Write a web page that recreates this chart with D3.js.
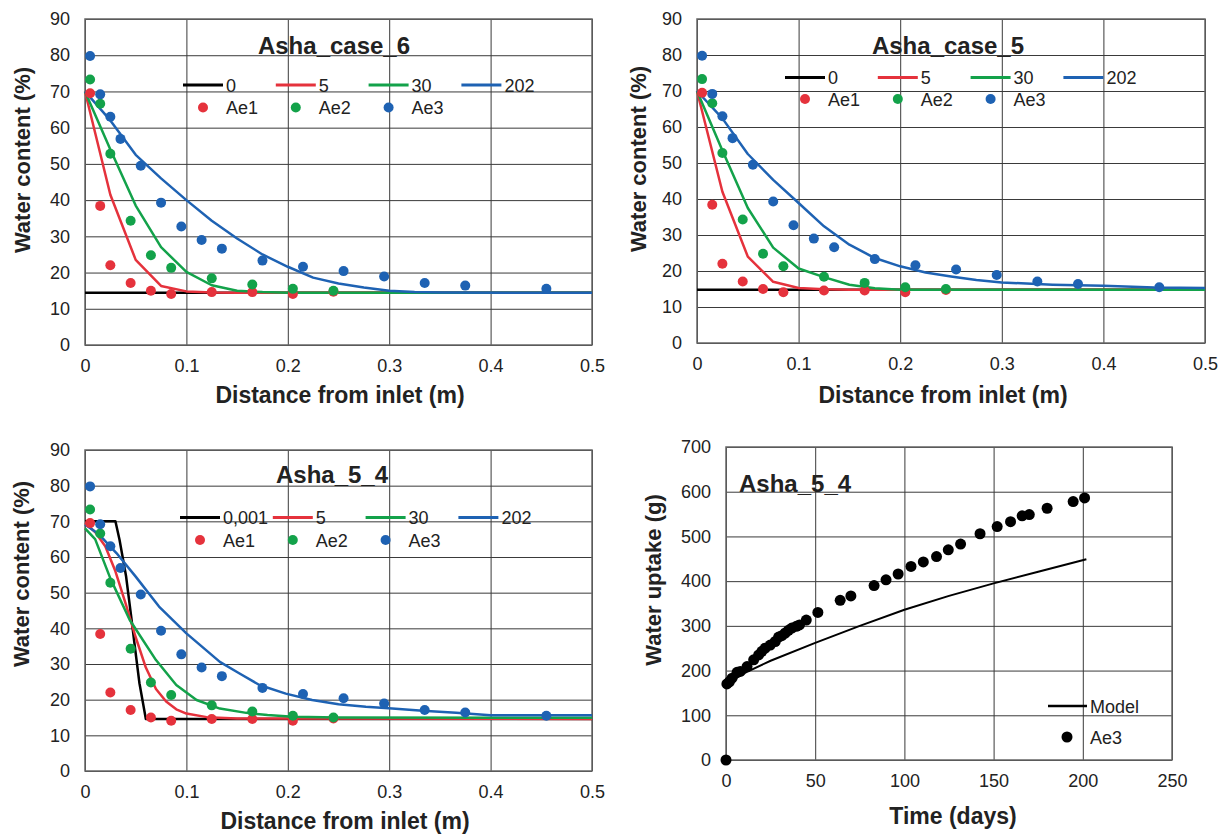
<!DOCTYPE html>
<html>
<head>
<meta charset="utf-8">
<script src="https://cdn.jsdelivr.net/npm/d3@7"></script>
<style>
  body { margin: 0; background: #fff; }
  text { font-family: 'Liberation Sans', Arial, sans-serif; fill: #222; }
</style>
</head>
<body>
<div id="chart"></div>
<script>
// measured water content, same in the three profile charts
var distAe12 = [0.005, 0.015, 0.025, 0.045, 0.065, 0.085, 0.125, 0.165, 0.205, 0.245];
var ae1 = [69.5, 38.4, 22.0, 17.1, 15.0, 14.1, 14.6, 14.6, 14.1, 14.7];
var ae2 = [73.3, 66.6, 52.8, 34.3, 24.8, 21.3, 18.4, 16.7, 15.5, 15.0];
var distAe3 = [0.005, 0.015, 0.025, 0.035, 0.055, 0.075, 0.095, 0.115, 0.135, 0.175, 0.215, 0.255, 0.295, 0.335, 0.375, 0.455];
var ae3 = [79.8, 69.2, 63.0, 56.9, 49.5, 39.3, 32.7, 29.0, 26.6, 23.3, 21.6, 20.4, 18.9, 17.1, 16.4, 15.5];

// model profiles - Asha_case_6
var c6Dist0 = [0, 0.5];
var c6Wc0 = [14.4, 14.4];
var c6Dist5 = [0, 0.025, 0.05, 0.075, 0.1, 0.125, 0.15, 0.5];
var c6Wc5 = [70, 41.5, 23.5, 16.3, 14.8, 14.5, 14.4, 14.4];
var c6Dist30 = [0, 0.025, 0.05, 0.075, 0.1, 0.125, 0.15, 0.175, 0.2, 0.5];
var c6Wc30 = [70, 54, 38.5, 27, 20.2, 16.5, 15.0, 14.6, 14.4, 14.4];
var c6Dist202 = [0, 0.025, 0.05, 0.075, 0.1, 0.125, 0.15, 0.175, 0.2, 0.225, 0.25, 0.275, 0.3, 0.325, 0.35, 0.5];
var c6Wc202 = [70, 62, 52.5, 46, 40, 34.3, 29.4, 25, 21.6, 18.6, 17, 15.9, 15, 14.6, 14.5, 14.4];

// model profiles - Asha_case_5
var c5Dist0 = [0, 0.5];
var c5Wc0 = [14.8, 14.8];
var c5Dist5 = [0, 0.025, 0.05, 0.075, 0.1, 0.125, 0.15, 0.5];
var c5Wc5 = [70, 42, 24, 17, 15.3, 14.9, 14.8, 14.8];
var c5Dist30 = [0, 0.025, 0.05, 0.075, 0.1, 0.125, 0.15, 0.175, 0.2, 0.5];
var c5Wc30 = [70, 53.5, 37.5, 26.5, 20.7, 18.3, 16.2, 15.2, 14.8, 14.8];
var c5Dist202 = [0, 0.025, 0.05, 0.075, 0.1, 0.125, 0.15, 0.175, 0.2, 0.225, 0.25, 0.275, 0.3, 0.35, 0.4, 0.45, 0.5];
var c5Wc202 = [70, 62.4, 52.5, 45.3, 38.9, 32.4, 27.3, 23.6, 21.3, 19.6, 18.5, 17.5, 16.8, 16.2, 15.9, 15.4, 15.3];

// model profiles - Asha_5_4
var c54Dist0 = [0, 0.03, 0.034, 0.0405, 0.0455, 0.0487, 0.0537, 0.06, 0.5];
var c54Wc0 = [70, 70, 64.9, 54.6, 43.4, 35.9, 24.6, 14.6, 14.6];
var c54Dist5 = [0, 0.01, 0.02, 0.03, 0.04, 0.05, 0.06, 0.07, 0.08, 0.09, 0.1, 0.12, 0.15, 0.5];
var c54Wc5 = [69.5, 67, 63, 56, 47, 37.5, 29, 23, 19.5, 17.3, 16.1, 15.1, 14.7, 14.6];
var c54Dist30 = [0, 0.01, 0.025, 0.044, 0.07, 0.09, 0.11, 0.133, 0.159, 0.18, 0.205, 0.25, 0.5];
var c54Wc30 = [68, 65, 54, 42.4, 31.1, 24.1, 19.9, 17.5, 16.3, 15.7, 15.2, 15.0, 14.9];
var c54Dist202 = [0, 0.014, 0.031, 0.05, 0.073, 0.1, 0.133, 0.152, 0.172, 0.198, 0.224, 0.25, 0.277, 0.303, 0.333, 0.366, 0.4, 0.5];
var c54Wc202 = [69.1, 66.3, 61.1, 54.5, 46.1, 38.6, 30.6, 27.4, 24.1, 21.7, 19.9, 18.7, 18.0, 17.5, 16.9, 16.3, 15.6, 15.6];

var profTicksX = [0, 0.1, 0.2, 0.3, 0.4, 0.5];
var profTicksY = [0, 10, 20, 30, 40, 50, 60, 70, 80, 90];

// water uptake - Asha_5_4
var uptakeDays = [0, 0.5, 1.9, 3.4, 6.2, 8, 11.8, 15.5, 18.3, 20.1, 22, 24.8, 27.6, 29.5, 31.3, 33.2, 35, 36.9, 39.4, 41.2, 45, 51.5, 64, 70, 83, 89.7, 96.5, 103.7, 110.6, 118, 124.6, 131.5, 142.4, 152, 159.5, 166, 170, 180, 194.6, 201];
var uptakeAe3 = [0, 170, 175, 183, 196, 198, 209, 224, 235, 243, 250, 257, 265, 275, 278, 284, 290, 295, 299, 302, 313, 330, 357, 367, 390, 403, 416, 433, 443, 455, 470, 483, 506, 522, 533, 546, 549, 563, 578, 586];
var modelDays = [0, 10, 25, 50, 75, 100, 125, 150, 175, 202];
var modelUptake = [168, 194, 222, 262, 300, 336, 367, 395, 421, 449];
var uptakeTicksX = [0, 50, 100, 150, 200, 250];
var uptakeTicksY = [0, 100, 200, 300, 400, 500, 600, 700];

var red = "#e5323c", green = "#13a24a", blue = "#1e62b3";

var svg = d3.select("#chart")
  .append("svg")
    .attr("width", 1225)
    .attr("height", 835);

// grid, frame and tick labels of one plot area
function drawAxes(g, x, y, w, h, ticksX, ticksY) {
  g.append("g")
    .attr("transform", "translate(0," + h + ")")
    .call(d3.axisBottom(x).tickValues(ticksX).tickSize(-h).tickFormat(d3.format("")))
    .call(function(a) { a.select(".domain").remove(); })
    .call(function(a) {
      a.selectAll("line").attr("stroke", "#3a3a3a").attr("stroke-width", 1);
      a.selectAll("text").attr("y", 27).attr("dy", null)
        .style("font-size", "18px").style("fill", "#222")
        .style("font-family", "'Liberation Sans', Arial, sans-serif");
    });
  g.append("g")
    .call(d3.axisLeft(y).tickValues(ticksY).tickSize(-w).tickPadding(15))
    .call(function(a) { a.select(".domain").remove(); })
    .call(function(a) {
      a.selectAll("line").attr("stroke", "#3a3a3a").attr("stroke-width", 1);
      a.selectAll("text")
        .style("font-size", "18px").style("fill", "#222")
        .style("font-family", "'Liberation Sans', Arial, sans-serif");
    });
  g.append("rect")
    .attr("width", w).attr("height", h)
    .attr("fill", "none").attr("stroke", "#666").attr("stroke-width", 1.5);
}

function axisTitles(xt, yt) {
  svg.append("text")
    .attr("x", xt[0]).attr("y", xt[1])
    .attr("text-anchor", "middle")
    .style("font-size", "23px").style("font-weight", "bold")
    .text(xt[2]);
  svg.append("text")
    .attr("transform", "translate(" + yt[0] + "," + yt[1] + ")rotate(-90)")
    .attr("text-anchor", "middle")
    .style("font-size", "22px").style("font-weight", "bold")
    .text(yt[2]);
}

function profileChart(p) {
  var g = svg.append("g")
    .attr("transform", "translate(" + p.left + "," + p.top + ")");
  var x = d3.scaleLinear().domain([0, 0.5]).range([0, p.w]);
  var y = d3.scaleLinear().domain([0, 90]).range([p.h, 0]);
  drawAxes(g, x, y, p.w, p.h, profTicksX, profTicksY);

  var line = d3.line()
    .x(function(d) { return x(d[0]); })
    .y(function(d) { return y(d[1]); });

  p.lines.forEach(function(s) {
    g.append("path")
      .datum(d3.zip(s.x, s.y))
      .attr("d", line)
      .attr("fill", "none")
      .attr("stroke", s.color)
      .attr("stroke-width", 2.5)
      .attr("stroke-linejoin", "round");
  });

  var dots = [
    {x: distAe12, y: ae1, color: red},
    {x: distAe12, y: ae2, color: green},
    {x: distAe3, y: ae3, color: blue}
  ];
  dots.forEach(function(s) {
    g.selectAll(null)
      .data(d3.zip(s.x, s.y))
      .enter()
      .append("circle")
        .attr("cx", function(d) { return x(d[0]); })
        .attr("cy", function(d) { return y(d[1]); })
        .attr("r", 5)
        .attr("fill", s.color);
  });

  // chart title
  svg.append("text")
    .attr("x", p.titleX).attr("y", p.titleY)
    .attr("text-anchor", "middle")
    .style("font-size", "24px").style("font-weight", "bold")
    .text(p.title);

  // legend, two rows
  var pitch = 92.8;
  p.lines.forEach(function(s, i) {
    var lx = p.legX + i * pitch;
    svg.append("line")
      .attr("x1", lx).attr("x2", lx + 40)
      .attr("y1", p.legY1).attr("y2", p.legY1)
      .attr("stroke", s.color).attr("stroke-width", 3);
    svg.append("text")
      .attr("x", lx + 43).attr("y", p.legY1 + 6.5)
      .style("font-size", "18px")
      .text(s.name);
  });
  ["Ae1", "Ae2", "Ae3"].forEach(function(n, i) {
    var lx = p.legX + i * pitch;
    svg.append("circle")
      .attr("cx", lx + 20).attr("cy", p.legY2)
      .attr("r", 5).attr("fill", dots[i].color);
    svg.append("text")
      .attr("x", lx + 43).attr("y", p.legY2 + 6.5)
      .style("font-size", "18px")
      .text(n);
  });

  axisTitles([p.xtX, p.xtY, "Distance from inlet (m)"], [p.ytX, p.ytY, "Water content (%)"]);
}

profileChart({
  left: 85, top: 19, w: 507, h: 326,
  title: "Asha_case_6", titleX: 334, titleY: 54,
  legX: 183, legY1: 85, legY2: 107.5,
  xtX: 340, xtY: 403, ytX: 30, ytY: 160,
  lines: [
    {name: "0", x: c6Dist0, y: c6Wc0, color: "#000"},
    {name: "5", x: c6Dist5, y: c6Wc5, color: red},
    {name: "30", x: c6Dist30, y: c6Wc30, color: green},
    {name: "202", x: c6Dist202, y: c6Wc202, color: blue}
  ]
});

profileChart({
  left: 697, top: 19, w: 508, h: 324,
  title: "Asha_case_5", titleX: 948, titleY: 54,
  legX: 785, legY1: 77.5, legY2: 99,
  xtX: 943, xtY: 403, ytX: 646, ytY: 159,
  lines: [
    {name: "0", x: c5Dist0, y: c5Wc0, color: "#000"},
    {name: "5", x: c5Dist5, y: c5Wc5, color: red},
    {name: "30", x: c5Dist30, y: c5Wc30, color: green},
    {name: "202", x: c5Dist202, y: c5Wc202, color: blue}
  ]
});

profileChart({
  left: 85, top: 450, w: 507, h: 321,
  title: "Asha_5_4", titleX: 332, titleY: 483,
  legX: 180, legY1: 517.5, legY2: 540,
  xtX: 345, xtY: 829, ytX: 29, ytY: 574,
  lines: [
    {name: "0,001", x: c54Dist0, y: c54Wc0, color: "#000"},
    {name: "5", x: c54Dist5, y: c54Wc5, color: red},
    {name: "30", x: c54Dist30, y: c54Wc30, color: green},
    {name: "202", x: c54Dist202, y: c54Wc202, color: blue}
  ]
});

// water uptake chart
var wUp = 446, hUp = 313;
var gUp = svg.append("g").attr("transform", "translate(726,447)");
var xUp = d3.scaleLinear().domain([0, 250]).range([0, wUp]);
var yUp = d3.scaleLinear().domain([0, 700]).range([hUp, 0]);
drawAxes(gUp, xUp, yUp, wUp, hUp, uptakeTicksX, uptakeTicksY);

gUp.append("path")
  .datum(d3.zip(modelDays, modelUptake))
  .attr("d", d3.line()
    .x(function(d) { return xUp(d[0]); })
    .y(function(d) { return yUp(d[1]); }))
  .attr("fill", "none")
  .attr("stroke", "#000")
  .attr("stroke-width", 2);

gUp.selectAll(null)
  .data(d3.zip(uptakeDays, uptakeAe3))
  .enter()
  .append("circle")
    .attr("cx", function(d) { return xUp(d[0]); })
    .attr("cy", function(d) { return yUp(d[1]); })
    .attr("r", 5.5)
    .attr("fill", "#000");

svg.append("text")
  .attr("x", 739).attr("y", 492)
  .style("font-size", "24px").style("font-weight", "bold")
  .text("Asha_5_4");

svg.append("line")
  .attr("x1", 1048).attr("x2", 1087)
  .attr("y1", 706).attr("y2", 706)
  .attr("stroke", "#000").attr("stroke-width", 2.5);
svg.append("text")
  .attr("x", 1090).attr("y", 712.5)
  .style("font-size", "18px")
  .text("Model");
svg.append("circle")
  .attr("cx", 1067).attr("cy", 737)
  .attr("r", 5.5).attr("fill", "#000");
svg.append("text")
  .attr("x", 1090).attr("y", 743.5)
  .style("font-size", "18px")
  .text("Ae3");

axisTitles([953, 824, "Time (days)"], [661, 580, "Water uptake (g)"]);
</script>
</body>
</html>
